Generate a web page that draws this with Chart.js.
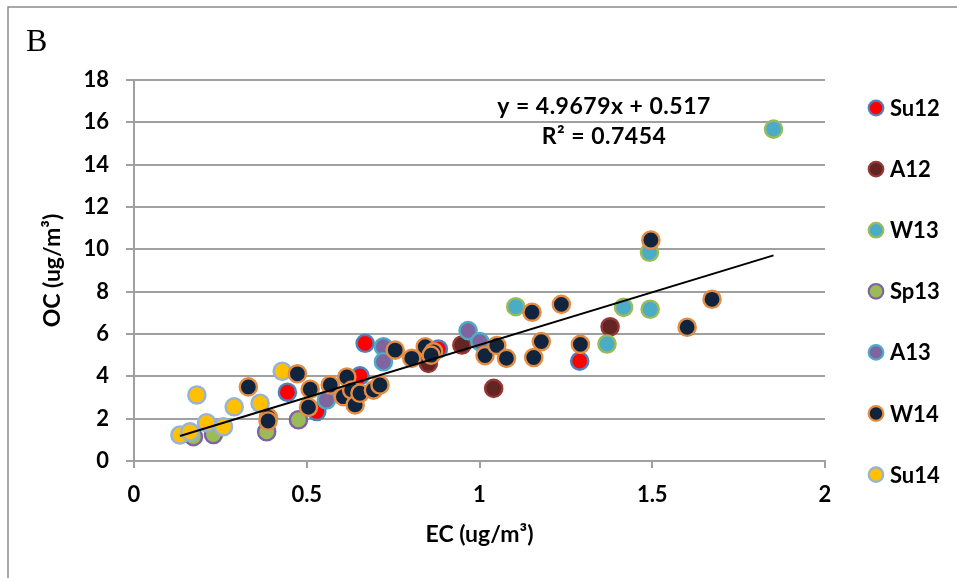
<!DOCTYPE html>
<html>
<head>
<meta charset="utf-8">
<script src="https://cdn.jsdelivr.net/npm/chart.js@4"></script>
<style>
  html, body { margin: 0; padding: 0; background: #fff; }
  #wrap { width: 957px; height: 578px; }
</style>
</head>
<body>
<div id="wrap"><canvas id="ocChart" width="957" height="578"></canvas></div>
<script>
// EC / OC pairs per sampling season (ug/m3)
const seasons = ["Su12", "A12", "W13", "Sp13", "A13", "W14", "Su14"];

const su12EC = [0.444, 0.529, 0.654, 0.669, 0.881, 1.29];
const su12OC = [3.25, 2.34, 4.02, 5.56, 5.29, 4.72];

const a12EC = [0.852, 0.949, 1.041, 1.378];
const a12OC = [4.61, 5.48, 3.43, 6.34];

const w13EC = [1.105, 1.369, 1.417, 1.494, 1.492, 1.851];
const w13OC = [7.29, 5.53, 7.26, 7.17, 9.86, 15.68];

const sp13EC = [0.172, 0.23, 0.384, 0.476];
const sp13OC = [1.15, 1.25, 1.38, 1.95];

const a13EC = [0.557, 0.722, 0.722, 0.967, 1.001];
const a13OC = [2.88, 5.40, 4.69, 6.16, 5.64];

const w14EC = [0.331, 0.389, 0.388, 0.473, 0.51, 0.505, 0.568, 0.616, 0.606, 0.63,
               0.64, 0.654, 0.693, 0.712, 0.756, 0.804, 0.843, 0.867, 0.86, 1.016,
               1.05, 1.078, 1.157, 1.179, 1.152, 1.237, 1.292, 1.601, 1.673, 1.496];
const w14OC = [3.50, 2.06, 1.89, 4.12, 3.39, 2.54, 3.59, 3.97, 3.04, 3.35,
               2.65, 3.20, 3.35, 3.59, 5.24, 4.85, 5.40, 5.16, 5.00, 4.98,
               5.46, 4.85, 4.89, 5.64, 7.03, 7.40, 5.51, 6.32, 7.64, 10.44];

const su14EC = [0.133, 0.162, 0.182, 0.21, 0.259, 0.29, 0.365, 0.429];
const su14OC = [1.23, 1.38, 3.12, 1.81, 1.62, 2.56, 2.73, 4.24];

// linear fit printed on the chart
const trendSlope = 4.9679;
const trendIntercept = 0.517;
const trendText = ["y = 4.9679x + 0.517", "R\u00B2 = 0.7454"];

const fills   = ["#ff0000", "#632523", "#4bacc6", "#9bbb59", "#8064a2", "#10243e", "#ffc000"];
const borders = ["#4f81bd", "#953735", "#9bbb59", "#8064a2", "#4bacc6", "#e38c42", "#95b3d7"];
// stacking: lower number is drawn on top
const drawOrder = [7, 6, 5, 4, 3, 1, 2];

const ecLists = [su12EC, a12EC, w13EC, sp13EC, a13EC, w14EC, su14EC];
const ocLists = [su12OC, a12OC, w13OC, sp13OC, a13OC, w14OC, su14OC];

const FONT = "Lato";

const datasets = seasons.map((name, i) => ({
  label: name,
  data: ecLists[i].map((x, j) => ({ x: x, y: ocLists[i][j] })),
  backgroundColor: fills[i],
  borderColor: borders[i],
  borderWidth: 2.4,
  pointRadius: 8.6,
  pointHoverRadius: 8.6,
  order: drawOrder[i]
}));

const allEC = ecLists.flat();
const xMin = Math.min(...allEC);
const xMax = Math.max(...allEC);
datasets.push({
  type: "line",
  label: "trend",
  data: [xMin, xMax].map(x => ({ x: x, y: trendSlope * x + trendIntercept })),
  borderColor: "#000",
  borderWidth: 2,
  pointRadius: 0,
  fill: false,
  order: -1
});

// frame, panel letter, fit equation and the season key
const decorations = {
  id: "decorations",
  afterDraw(chart) {
    const ctx = chart.ctx;
    ctx.save();
    ctx.strokeStyle = "#8c8c8c";
    ctx.lineWidth = 1.5;
    ctx.beginPath();
    ctx.moveTo(8, 578);
    ctx.lineTo(8, 7);
    ctx.lineTo(957, 7);
    ctx.stroke();

    ctx.fillStyle = "#000";
    ctx.font = "32px 'Liberation Serif'";
    ctx.textBaseline = "alphabetic";
    ctx.textAlign = "left";
    ctx.fillText("B", 26, 51);

    ctx.font = "bold 23px " + FONT;
    ctx.textAlign = "center";
    ctx.textBaseline = "middle";
    ctx.letterSpacing = "0.5px";
    ctx.fillText(trendText[0], 604, 107);
    ctx.fillText(trendText[1], 604, 137);
    ctx.letterSpacing = "0px";

    ctx.font = "bold 22px " + FONT;
    ctx.textAlign = "left";
    seasons.forEach((name, i) => {
      const y = 108 + i * 61.1;
      ctx.beginPath();
      ctx.arc(876, y, 7.3, 0, Math.PI * 2);
      ctx.fillStyle = fills[i];
      ctx.fill();
      ctx.lineWidth = 2.2;
      ctx.strokeStyle = borders[i];
      ctx.stroke();
      ctx.fillStyle = "#000";
      ctx.fillText(name, 890, y + 1);
    });
    ctx.restore();
  }
};

const tickFont = { family: FONT, size: 22, weight: "bold" };
const titleFont = { family: FONT, size: 23, weight: "bold" };

new Chart("ocChart", {
  type: "scatter",
  data: { datasets: datasets },
  options: {
    responsive: false,
    animation: false,
    devicePixelRatio: 1,
    layout: { padding: { left: 0, right: 132, top: 80, bottom: 0 } },
    plugins: {
      legend: { display: false },
      tooltip: { enabled: false }
    },
    scales: {
      x: {
        type: "linear",
        min: 0,
        max: 2,
        ticks: {
          stepSize: 0.5,
          color: "#000",
          padding: 14,
          font: tickFont,
          callback: v => String(v)
        },
        grid: {
          display: true,
          drawOnChartArea: false,
          drawTicks: true,
          tickLength: 7,
          color: "#a0a0a0",
          lineWidth: 2
        },
        border: { display: true, color: "#a0a0a0", width: 2 },
        title: {
          display: true,
          text: "EC (ug/m\u00B3)",
          color: "#000",
          font: titleFont,
          padding: { top: 0, bottom: 30 }
        },
        afterFit(scale) { scale.height = 117; }
      },
      y: {
        type: "linear",
        min: 0,
        max: 18,
        ticks: {
          stepSize: 2,
          color: "#000",
          padding: 17,
          font: tickFont
        },
        grid: {
          color: "#a0a0a0",
          lineWidth: 2,
          drawTicks: true,
          tickLength: 8
        },
        border: { display: true, color: "#a0a0a0", width: 2 },
        title: {
          display: true,
          text: "OC (ug/m\u00B3)",
          color: "#000",
          font: titleFont,
          padding: { top: 39, bottom: 0 }
        },
        afterFit(scale) { scale.width = 134; }
      }
    }
  },
  plugins: [decorations]
});
</script>
</body>
</html>
